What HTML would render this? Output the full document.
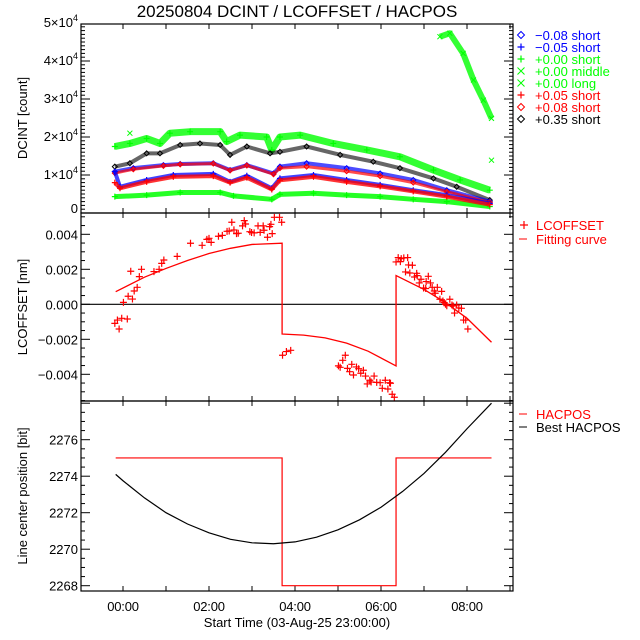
<!DOCTYPE html>
<html><head><meta charset="utf-8"><style>
html,body{margin:0;padding:0;background:#fff;}
svg{display:block;font-family:"Liberation Sans",sans-serif;}
</style></head><body>
<svg id="chart" width="640" height="640" viewBox="0 0 640 640" xmlns="http://www.w3.org/2000/svg">
<rect width="640" height="640" fill="#fff"/>
<text x="297" y="17" font-size="17" text-anchor="middle">20250804 DCINT / LCOFFSET / HACPOS</text>
<defs>
<clipPath id="cTop"><rect x="81" y="24" width="432" height="189"/></clipPath>
<clipPath id="cMid"><rect x="81" y="213" width="432" height="188"/></clipPath>
<clipPath id="cBot"><rect x="81" y="401" width="432" height="190"/></clipPath>
</defs>
<g id="axes"></g>
<g id="topg" clip-path="url(#cTop)"></g>
<g id="midg" clip-path="url(#cMid)"></g>
<g id="botg" clip-path="url(#cBot)"></g>
<g id="frames"></g>
<g id="legends"></g>
</svg>
<script>
// ---- x axis ticks (hours from 00:00) ----
const xTickHours = [0, 2, 4, 6, 8];
const xTickLabels = ["00:00", "02:00", "04:00", "06:00", "08:00"];
// ---- top panel: DCINT [count] ----
const topTickValues = [0, 10000, 20000, 30000, 40000, 50000];
const topTickLabels = ["0", "1", "2", "3", "4", "5"];
const tGreenShort = [-0.19,0.16,0.55,0.86,1.09,1.56,2.26,2.41,2.72,3.34,3.46,3.65,4.12,4.89,5.67,6.44,7.22,7.84,8.53];
const vGreenShort = [17500,18300,19600,18300,21000,21400,21400,18800,20500,20000,16600,20000,20500,18300,16600,14800,11300,8700,6000];
const tBlack = [-0.19,0.16,0.55,0.86,1.33,1.79,2.26,2.49,2.88,3.42,3.65,4.27,5.05,5.82,6.44,7.22,7.76,8.53];
const vBlack = [12200,13100,15700,15700,17900,18300,17900,15300,17500,15700,16100,17500,15300,13500,11800,9100,6900,3400];
const tBlueDia = [-0.19,0.24,0.94,1.33,2.10,2.49,2.88,3.50,3.65,4.27,5.20,5.98,6.75,7.53,8.53];
const vBlueDia = [10900,11800,12600,12900,13100,11300,12600,10400,12200,13100,11800,10400,8700,6000,3000];
const tRedDia = [-0.19,0.24,0.94,1.33,2.10,2.49,2.88,3.50,3.65,4.27,5.20,5.98,6.75,7.53,8.53];
const vRedDia = [10500,11500,12400,12800,13000,11200,12500,10200,11800,12200,11000,9700,8000,5600,2800];
const tBluePlus = [-0.19,-0.07,0.55,1.17,2.10,2.49,2.88,3.46,3.65,4.43,5.20,5.98,6.75,7.53,8.53];
const vBluePlus = [10900,6900,8700,10000,10300,8200,9800,6500,9100,10000,8700,7400,6000,4700,2500];
const tRedPlus = [-0.19,-0.07,0.55,1.17,2.10,2.49,2.88,3.46,3.65,4.43,5.20,5.98,6.75,7.53,8.53];
const vRedPlus = [8000,6500,8200,9500,9700,8000,9300,6200,8600,9500,8200,7000,5700,4300,2200];
const tGreenLow = [-0.19,0.55,1.33,2.26,2.57,3.46,3.65,4.43,5.20,5.98,6.75,7.53,8.53];
const vGreenLow = [4300,4700,5400,5400,4500,3600,4900,5200,4700,4300,3600,3000,1700];
const tGreenMiddle = [7.37,7.60,7.91,8.15,8.38,8.57];
const vGreenMiddle = [46400,47300,42000,35000,29700,24900];
const tGreenLong = [0.16,8.57];
const vGreenLong = [21000,13900];
// ---- middle panel: LCOFFSET [nm] ----
const midTickValues = [-0.004,-0.002,0,0.002,0.004];
const midTickLabels = ["\u22120.004","\u22120.002","0.000","0.002","0.004"];
const tLc = [-0.19,-0.13,-0.09,-0.03,0.10,0.01,0.12,0.22,0.26,0.33,0.18,0.43,0.38,0.72,0.84,0.90,0.95,1.26,1.57,1.84,1.95,2.00,2.05,2.22,2.31,2.42,2.47,2.53,2.58,2.64,2.68,2.78,2.82,2.85,2.95,2.99,3.05,3.14,3.19,3.26,3.28,3.36,3.41,3.47,3.44,3.52,3.64,3.69,3.71,3.80,3.90,5.01,5.05,5.11,5.17,5.22,5.27,5.32,5.36,5.43,5.48,5.53,5.59,5.64,5.68,5.77,5.74,5.84,5.90,5.98,6.03,6.10,6.16,6.20,6.22,6.26,6.31,6.35,6.40,6.45,6.47,6.53,6.62,6.57,6.64,6.67,6.73,6.78,6.83,6.84,6.89,6.93,6.99,7.04,7.05,7.10,7.15,7.19,7.24,7.26,7.31,7.37,7.41,7.44,7.47,7.50,7.53,7.60,7.65,7.76,7.81,7.87,7.71,7.92,7.97,8.02,7.68];
const vLc = [-1.09,-0.90,-1.41,-0.80,-0.84,0.11,0.46,0.30,0.76,0.97,1.89,2.00,1.58,1.87,2.00,2.34,2.53,2.74,3.49,3.37,3.71,3.77,3.54,3.89,3.94,4.17,4.19,4.69,4.25,4.04,4.06,4.48,4.78,4.59,4.15,4.10,4.08,4.48,4.11,4.48,4.23,3.83,4.44,4.04,4.57,4.97,4.97,4.69,-2.91,-2.70,-2.63,-3.52,-3.60,-3.20,-2.91,-3.66,-3.85,-3.43,-4.04,-3.58,-3.68,-3.94,-3.77,-4.10,-4.55,-4.44,-4.34,-4.10,-4.46,-4.48,-4.80,-4.34,-4.84,-4.48,-4.51,-5.14,-5.31,2.42,2.67,2.44,2.61,2.65,2.67,1.85,2.25,1.79,2.23,1.56,1.77,1.64,1.22,1.43,0.93,0.90,1.30,1.60,1.22,0.97,0.76,0.63,0.97,0.29,0.74,0.19,0.10,0.00,-0.08,0.29,-0.04,-0.04,-0.21,-0.23,-0.50,-0.90,-0.90,-1.41,-0.10];
const tFit1 = [-0.17,0.5,1.0,1.5,2.0,2.5,3.0,3.7];
const vFit1 = [0.72,1.55,2.05,2.5,2.9,3.2,3.42,3.49];
const tFit2 = [3.7,4.2,4.7,5.2,5.7,6.35];
const vFit2 = [-1.70,-1.76,-1.92,-2.22,-2.68,-3.52];
const tFit3 = [6.35,7.0,7.5,8.0,8.57];
const vFit3 = [1.64,0.85,0.1,-0.8,-2.17];
// ---- bottom panel: line center position [bit] ----
const botTickValues = [2268,2270,2272,2274,2276];
const botTickLabels = ["2268","2270","2272","2274","2276"];
const tHac = [-0.17,3.7,3.7,6.35,6.35,8.57];
const vHac = [2275,2275,2268,2268,2275,2275];
const tBest = [-0.17,0,0.5,1,1.5,2,2.5,3,3.5,4,4.5,5,5.5,6,6.5,7,7.5,8,8.57];
const vBest = [2274.1,2273.75,2272.81,2272.0,2271.38,2270.9,2270.54,2270.35,2270.3,2270.4,2270.66,2271.06,2271.61,2272.3,2273.16,2274.15,2275.31,2276.6,2278.0];

const NS="http://www.w3.org/2000/svg";
function mk(tag, attrs, parent){const e=document.createElementNS(NS,tag);for(const k in attrs)e.setAttribute(k,attrs[k]);parent.appendChild(e);return e;}
const xS=t=>123+43*t;
const yTop=c=>213-c*0.0038;
const yMid=v=>304.3-v*17.5; // v in 1e-3 nm
const yMidNm=v=>304.3-v*17500;
const yBot=v=>585.7-(v-2268)*18.25;
const L=81,R=513;
const axes=document.getElementById('axes'),frames=document.getElementById('frames');
const topg=document.getElementById('topg'),midg=document.getElementById('midg'),botg=document.getElementById('botg'),leg=document.getElementById('legends');

[[24,213,'top-panel-frame'],[213,401,'middle-panel-frame'],[401,591,'bottom-panel-frame']].forEach(p=>{
  const r=mk('rect',{x:L,y:p[0],width:R-L,height:p[1]-p[0],fill:'none',stroke:'#000','stroke-width':1.2},frames);
  
  
});
[[24,213],[213,401],[401,591]].forEach(p=>{
  for(let h=-0;h<=9;h++){
    if(xS(h)>R)continue;
    mk('line',{x1:xS(h),x2:xS(h),y1:p[1],y2:p[1]-5,stroke:'#000'},axes);
    mk('line',{x1:xS(h),x2:xS(h),y1:p[0],y2:p[0]+5,stroke:'#000'},axes);
  }
});
xTickHours.forEach((h,i)=>{
  const t=mk('text',{x:xS(h),y:611,'font-size':13,'text-anchor':'middle','letter-spacing':'-0.2'},axes);
  t.textContent=xTickLabels[i];
  
  
});
const xt=mk('text',{x:297,y:627,'font-size':13,'text-anchor':'middle'},axes);
xt.textContent='Start Time (03-Aug-25 23:00:00)';



function yTicks(minor, major, fy, lo, hi, top, bot){
  for(let v=lo; v<=hi+1e-9; v+=minor){
    const y=fy(v); if(y<top-0.5||y>bot+0.5)continue;
    const isMaj=Math.abs(v/major-Math.round(v/major))<1e-6;
    const len=isMaj?9:4;
    mk('line',{x1:L,x2:L+len,y1:y,y2:y,stroke:'#000'},axes);
    mk('line',{x1:R,x2:R-len,y1:y,y2:y,stroke:'#000'},axes);
  }
}
yTicks(1000,10000,yTop,0,50000,24,213);
yTicks(0.5,2,yMid,-6,5.5,213,401);
yTicks(0.5,2,yBot,2267.5,2278,401,591);

topTickValues.forEach((v,i)=>{
  const t=mk('text',{x:78,y:yTop(v)+(v===0?0:4),'font-size':13,'text-anchor':'end'},axes);
  if(v===0){t.textContent='0';}
  else{t.textContent=topTickLabels[i]+'\u00d710';const s=mk('tspan',{dy:-6,'font-size':9},t);s.textContent='4';}
  
  
});
midTickValues.forEach((v,i)=>{
  const t=mk('text',{x:78,y:yMidNm(v)+5,'font-size':13,'text-anchor':'end'},axes);
  t.textContent=midTickLabels[i];
  
  
});
botTickValues.forEach((v,i)=>{
  const t=mk('text',{x:78,y:yBot(v)+5,'font-size':13,'text-anchor':'end'},axes);
  t.textContent=botTickLabels[i];
  
  
});
[['DCINT [count]',118,'top-y-axis-title'],['LCOFFSET [nm]',307,'middle-y-axis-title'],['Line center position [bit]',496,'bottom-y-axis-title']].forEach(a=>{
  const t=mk('text',{x:27,y:a[1],'font-size':13,'text-anchor':'middle',transform:`rotate(-90 27 ${a[1]})`},axes);
  t.textContent=a[0];
  
  
});

function marker(g,type,x,y,col,s){
  if(type==='plus'){mk('path',{d:`M${x-s} ${y}H${x+s}M${x} ${y-s}V${y+s}`,stroke:col,'stroke-width':1.2,fill:'none'},g);}
  else if(type==='dia'){mk('path',{d:`M${x} ${y-s}L${x+s} ${y}L${x} ${y+s}L${x-s} ${y}Z`,stroke:col,'stroke-width':1,fill:'none'},g);}
  else {mk('path',{d:`M${x-s} ${y-s}L${x+s} ${y+s}M${x-s} ${y+s}L${x+s} ${y-s}`,stroke:col,'stroke-width':1,fill:'none'},g);}
}
function series(ts,vs,type,col,band,op,name){
  const g=mk('g',{},topg);
  
  
  if(band>0){
    mk('polyline',{points:ts.map((t,i)=>xS(t)+','+yTop(vs[i])).join(' '),fill:'none',stroke:col,'stroke-width':band,'stroke-linejoin':'round','stroke-opacity':op},g);
  }
  ts.forEach((t,i)=>marker(g,type,xS(t),yTop(vs[i]),col,type==='plus'?3:2.5));
}
series(tGreenLow,vGreenLow,'plus','#00ff00',5,0.85,'series-green-low');
series(tGreenShort,vGreenShort,'plus','#00ff00',7,0.8,'series-plus0-00-short');
series(tBlack,vBlack,'dia','#000',4,0.6,'series-plus0-35-short');
series(tBlueDia,vBlueDia,'dia','#0000ff',4,0.7,'series-minus0-08-short');
series(tRedDia,vRedDia,'dia','#ff0000',3,0.7,'series-plus0-08-short');
series(tBluePlus,vBluePlus,'plus','#0000ff',4,0.75,'series-minus0-05-short');
series(tRedPlus,vRedPlus,'plus','#ff0000',4,0.8,'series-plus0-05-short');
series(tGreenMiddle,vGreenMiddle,'x','#00ff00',6,0.8,'series-plus0-00-middle');
series(tGreenLong,vGreenLong,'x','#00ff00',0,1,'series-plus0-00-long');

mk('line',{x1:L,x2:R,y1:yMid(0),y2:yMid(0),stroke:'#000','stroke-width':1.2},midg);
tLc.forEach((t,i)=>{
  const p=mk('path',{d:`M${xS(t)-3.5} ${yMid(vLc[i])}h7M${xS(t)} ${yMid(vLc[i])-3.5}v7`,stroke:'#f00','stroke-width':1.2,fill:'none'},midg);
  
  
});
const fitPts=[];
[[tFit1,vFit1],[tFit2,vFit2],[tFit3,vFit3]].forEach(s=>s[0].forEach((t,i)=>fitPts.push(xS(t)+','+yMid(s[1][i]))));
const fit=mk('polyline',{points:fitPts.join(' '),fill:'none',stroke:'#f00','stroke-width':1.3},midg);



const hac=mk('polyline',{points:tHac.map((t,i)=>xS(t)+','+yBot(vHac[i])).join(' '),fill:'none',stroke:'#f00','stroke-width':1.2},botg);


const best=mk('polyline',{points:tBest.map((t,i)=>xS(t)+','+yBot(vBest[i])).join(' '),fill:'none',stroke:'#000','stroke-width':1.2},botg);



const topLeg=[['dia','#0000ff','\u22120.08 short'],['plus','#0000ff','\u22120.05 short'],['plus','#00ff00','+0.00 short'],['x','#00ff00','+0.00 middle'],['x','#00ff00','+0.00 long'],['plus','#ff0000','+0.05 short'],['dia','#ff0000','+0.08 short'],['dia','#000','+0.35 short']];
topLeg.forEach((e,i)=>{
  const y=35+i*12;
  const g=mk('g',{},leg);
  
  
  marker(g,e[0],521,y,e[1],3.5);
  const t=mk('text',{x:535,y:y+5,'font-size':13,fill:e[1]},g);
  t.textContent=e[2];
});
[[225,'plus','#f00','LCOFFSET'],[239,'line','#f00','Fitting curve'],[414,'line','#f00','HACPOS'],[427,'line','#000','Best HACPOS']].forEach(e=>{
  const g=mk('g',{},leg);
  
  
  if(e[1]==='plus')marker(g,'plus',524,e[0],e[2],4);
  else mk('line',{x1:519,x2:527,y1:e[0],y2:e[0],stroke:e[2]},g);
  const t=mk('text',{x:536,y:e[0]+5,'font-size':13,fill:e[2]},g);
  t.textContent=e[3];
});
</script>
</body></html>
